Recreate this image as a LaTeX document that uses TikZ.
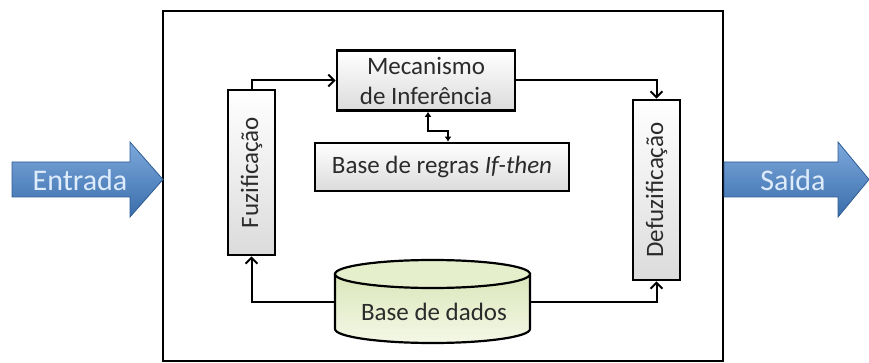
\documentclass[tikz,border=0pt]{standalone}
\usepackage{fontspec}
\setmainfont{Carlito}
\usetikzlibrary{arrows.meta}
\definecolor{boxtext}{HTML}{2B2B2B}
\definecolor{arrtop}{HTML}{7DA9DC}
\definecolor{arrbot}{HTML}{3A6DAB}
\definecolor{arrline}{HTML}{2F5D95}
\definecolor{arrtext}{HTML}{DDEBFA}
\definecolor{cyltop}{HTML}{E6EFCC}
\definecolor{cylA}{HTML}{DAE6BA}
\definecolor{cylB}{HTML}{F4F8E6}
\tikzset{
  procbox/.style={draw=black, line width=2.6pt, top color=white, bottom color=gray!28,
    font=\fontsize{25}{30}\selectfont, text=boxtext, inner sep=0pt, align=center},
  conn/.style={line width=2pt, -{Straight Barb[length=6pt,width=12pt,line width=2pt]}},
  zig/.style={line width=2pt, {Latex[length=5pt,width=7pt]}-{Latex[length=5pt,width=7pt]}},
  bigarrow/.style={draw=arrline, line width=0.8pt, top color=arrtop, bottom color=arrbot},
  arrlabel/.style={font=\fontsize{30}{34}\selectfont, text=arrtext, inner sep=0pt},
  vtext/.style={rotate=90, font=\fontsize{25}{30}\selectfont, text=boxtext, inner sep=0pt},
}
\begin{document}
\begin{tikzpicture}[x=1pt,y=-1pt]
\useasboundingbox (0,0) rectangle (869,363);

% outer frame
\node[draw=black, line width=2.6pt, minimum width=560pt, minimum height=350pt, inner sep=0pt] (outer) at (443,186) {};

% input / output arrows
\path[bigarrow] (12,162) -- (130,162) -- (130,142) -- (163,179.5) -- (130,217) -- (130,197) -- (12,197) -- cycle;
\node[arrlabel] (entrada) at (80,180) {Entrada};
\path[bigarrow] (724,162) -- (838,162) -- (838,142) -- (869,179.5) -- (838,217) -- (838,197) -- (724,197) -- cycle;
\node[arrlabel] (saida) at (793,180) {Saída};

% process boxes
\node[procbox, minimum width=178pt, minimum height=60pt] (mec) at (426,80.5) {Mecanismo\\de Inferência};
\node[procbox, minimum width=254pt, minimum height=48pt] (rules) at (442,167) {Base de regras \textit{If-then}};
\node[procbox, minimum width=47pt, minimum height=165pt] (fuz) at (251.5,172.5) {};
\node[vtext] (fuzt) at (fuz) {Fuzificação};
\node[procbox, minimum width=47pt, minimum height=180pt] (defuz) at (656.5,190) {};
\node[vtext] (defuzt) at (defuz) {Defuzificação};

% database cylinder
\path[top color=cylA, bottom color=cylB, draw=black, line width=2.2pt]
  (335,274) -- (335,329)
  .. controls (335,336.7) and (378.6,343) .. (432.5,343)
  .. controls (486.4,343) and (530,336.7) .. (530,329)
  -- (530,274) -- cycle;
\draw[fill=cyltop, line width=2.2pt] (432.5,274) ellipse[x radius=97.5, y radius=14];
\node[minimum width=195pt, minimum height=83pt, inner sep=0pt] (bd) at (432.5,302) {};
\node[font=\fontsize{25}{30}\selectfont, text=boxtext, inner sep=0pt] (bdt) at (434,312) {Base de dados};

% connectors
\draw[conn] (fuz.north) |- (mec.west);
\draw[conn] (mec.east) -| (defuz.north);
\draw[conn] (bd.west) -| (fuz.south);
\draw[conn] (bd.east) -| (defuz.south);
\draw[zig] ([xshift=2pt]mec.south) -- ++(0,19) -| ([xshift=6pt]rules.north);
\end{tikzpicture}
\end{document}
